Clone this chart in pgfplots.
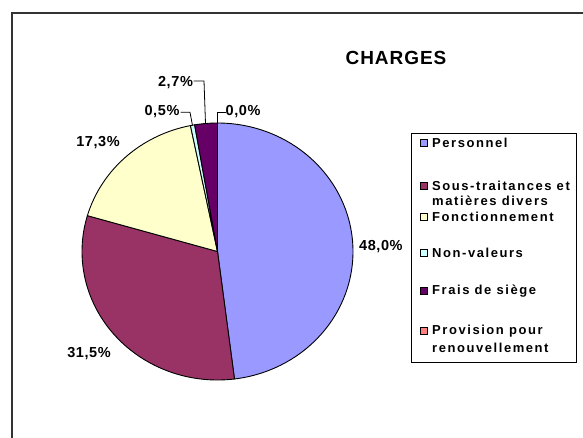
\documentclass[border=0pt]{standalone}
\usepackage{fontspec}
\setmainfont{Liberation Sans}
\newfontfamily\titlefont[LetterSpace=5]{Liberation Sans}
\newfontfamily\labfont[LetterSpace=4]{Liberation Sans}
\newfontfamily\legfont[LetterSpace=12]{Liberation Sans}
\usepackage{pgfplots}
\pgfplotsset{compat=1.18}
\definecolor{cPers}{HTML}{9999FF}
\definecolor{cSous}{HTML}{993366}
\definecolor{cFonc}{HTML}{FFFFCC}
\definecolor{cNon}{HTML}{CCFFFF}
\definecolor{cFrais}{HTML}{660066}
\definecolor{cProv}{HTML}{FF8080}
% Shares (%): Personnel 48.0, Sous-traitances 31.5, Fonctionnement 17.3,
% Non-valeurs 0.5, Frais de siege 2.7, Provision 0.0
% Slices start at 90 deg and run clockwise: 1% = 3.6 deg
\begin{document}
\begin{tikzpicture}
\useasboundingbox (0pt,0pt) rectangle (583pt,437pt);
\begin{axis}[at={(0pt,0pt)}, anchor=south west, scale only axis,
  width=583pt, height=437pt, xmin=0, xmax=583, ymin=0, ymax=437,
  hide axis]
\draw[line width=1.7pt, black!80] (axis cs:11.9,-2) -- (axis cs:11.9,424.1) -- (axis cs:590,424.1);
\addplot[fill=cPers, draw=black, line width=0.9pt, domain=-82.8:90, samples=120, variable=\t] ({217.5+135.5*cos(\t)},{185.5+128.5*sin(\t)}) -- (axis cs:217.5,185.5) -- cycle;
\addplot[fill=cSous, draw=black, line width=0.9pt, domain=-196.2:-82.8, samples=80, variable=\t] ({217.5+135.5*cos(\t)},{185.5+128.5*sin(\t)}) -- (axis cs:217.5,185.5) -- cycle;
\addplot[fill=cFonc, draw=black, line width=0.9pt, domain=-258.48:-196.2, samples=50, variable=\t] ({217.5+135.5*cos(\t)},{185.5+128.5*sin(\t)}) -- (axis cs:217.5,185.5) -- cycle;
\addplot[fill=cNon, draw=black, line width=0.9pt, domain=-260.28:-258.48, samples=4, variable=\t] ({217.5+135.5*cos(\t)},{185.5+128.5*sin(\t)}) -- (axis cs:217.5,185.5) -- cycle;
\addplot[fill=cFrais, draw=black, line width=0.9pt, domain=-270:-260.28, samples=10, variable=\t] ({217.5+135.5*cos(\t)},{185.5+128.5*sin(\t)}) -- (axis cs:217.5,185.5) -- cycle;
% title
\node[font=\titlefont\bfseries\fontsize{19}{21}\selectfont] at (axis cs:396,379.5) {CHARGES};
% data labels
\node[anchor=west, inner sep=0pt, font=\labfont\bfseries\fontsize{14.5}{16}\selectfont] at (axis cs:359,190) {48,0\%};
\node[inner sep=0pt, font=\labfont\bfseries\fontsize{14.5}{16}\selectfont] at (axis cs:89,83.5) {31,5\%};
\node[inner sep=0pt, font=\labfont\bfseries\fontsize{14.5}{16}\selectfont] at (axis cs:98,294) {17,3\%};
\node[inner sep=0pt, font=\labfont\bfseries\fontsize{14.5}{16}\selectfont] at (axis cs:162,325) {0,5\%};
\node[inner sep=0pt, font=\labfont\bfseries\fontsize{14.5}{16}\selectfont] at (axis cs:175.5,354) {2,7\%};
\node[inner sep=0pt, font=\labfont\bfseries\fontsize{14.5}{16}\selectfont] at (axis cs:243,325) {0,0\%};
\draw[line width=0.8pt] (axis cs:180.5,324.7) -- (axis cs:190,324.7) -- (axis cs:192.5,311.5);
\draw[line width=0.8pt] (axis cs:193.5,356) -- (axis cs:204,356) -- (axis cs:205.5,313.5);
\draw[line width=0.8pt] (axis cs:226,324.7) -- (axis cs:217.5,324.7) -- (axis cs:217.5,314);
% legend
\draw[line width=0.8pt] (axis cs:411.7,74.5) rectangle (axis cs:576,303.7);
\draw[fill=cPers, line width=0.6pt] (axis cs:420.5,290.5) rectangle (axis cs:427.5,297.5);
\draw[fill=cSous, line width=0.6pt] (axis cs:420.5,247.5) rectangle (axis cs:427.5,254.5);
\draw[fill=cFonc, line width=0.6pt] (axis cs:420.5,216.5) rectangle (axis cs:427.5,223.5);
\draw[fill=cNon, line width=0.6pt] (axis cs:420.5,180.5) rectangle (axis cs:427.5,187.5);
\draw[fill=cFrais, line width=0.6pt] (axis cs:420.5,142.5) rectangle (axis cs:427.5,149.5);
\draw[fill=cProv, line width=0.6pt] (axis cs:420.5,102.5) rectangle (axis cs:427.5,109.5);
\node[anchor=west, inner sep=0pt, font=\legfont\bfseries\fontsize{13}{16}\selectfont] at (axis cs:432,294) {Personnel};
\node[anchor=west, inner sep=0pt, font=\legfont\bfseries\fontsize{13}{16}\selectfont] at (axis cs:432,251) {Sous-traitances et};
\node[anchor=west, inner sep=0pt, font=\legfont\bfseries\fontsize{13}{16}\selectfont] at (axis cs:432,236) {matières divers};
\node[anchor=west, inner sep=0pt, font=\legfont\bfseries\fontsize{13}{16}\selectfont] at (axis cs:432,220) {Fonctionnement};
\node[anchor=west, inner sep=0pt, font=\legfont\bfseries\fontsize{13}{16}\selectfont] at (axis cs:432,184) {Non-valeurs};
\node[anchor=west, inner sep=0pt, font=\legfont\bfseries\fontsize{13}{16}\selectfont] at (axis cs:432,146) {Frais de siège};
\node[anchor=west, inner sep=0pt, font=\legfont\bfseries\fontsize{13}{16}\selectfont] at (axis cs:432,106) {Provision pour};
\node[anchor=west, inner sep=0pt, font=\legfont\bfseries\fontsize{13}{16}\selectfont] at (axis cs:432,89) {renouvellement};
\end{axis}
\end{tikzpicture}
\end{document}
